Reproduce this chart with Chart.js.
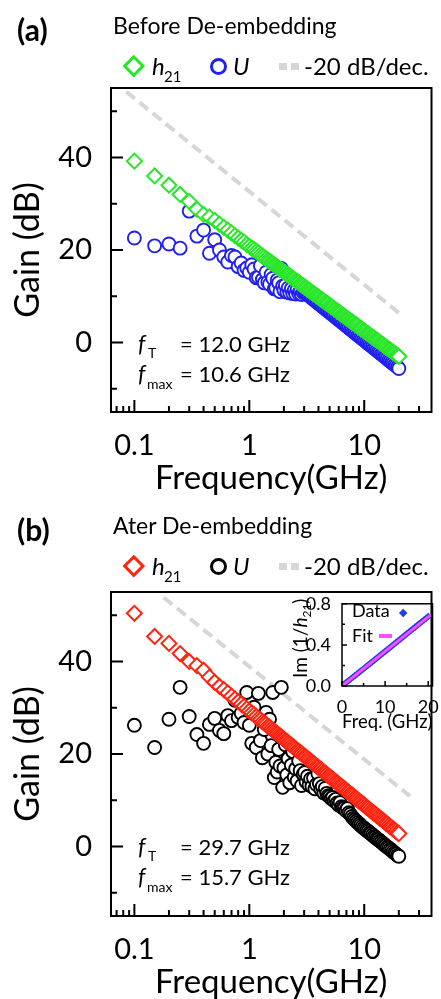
<!DOCTYPE html>
<html>
<head>
<meta charset="utf-8">
<script src="https://cdn.jsdelivr.net/npm/chart.js@4.4.0/dist/chart.umd.min.js"></script>
<style>
  html, body { margin: 0; padding: 0; background: #fff; }
  body { width: 441px; height: 999px; position: relative; overflow: hidden; font-family: Lato, sans-serif; color: #000; }
  canvas { position: absolute; left: 0; }
  .t { position: absolute; white-space: nowrap; line-height: 1.2; }
  .mk { position: absolute; box-sizing: border-box; }
</style>
</head>
<body>
<canvas id="chartA" width="441" height="500" style="top:0"></canvas>
<canvas id="chartB" width="441" height="500" style="top:504px"></canvas>
<canvas id="inset" width="156" height="145" style="left:285px;top:590px"></canvas>
<script>
'use strict';

// frequency sweep (GHz), shared by all four gain series
const freq = [
  0.1, 0.15, 0.2, 0.25, 0.3, 0.35, 0.4, 0.45, 0.5, 0.55,
  0.6, 0.65, 0.7, 0.75, 0.8, 0.85, 0.9, 0.95, 1.0, 1.05,
  1.1, 1.15, 1.2, 1.25, 1.3, 1.35, 1.4, 1.45, 1.5, 1.55,
  1.6, 1.65, 1.7, 1.75, 1.8, 1.85, 1.9, 1.95,
  2.0, 2.06, 2.12, 2.18, 2.25, 2.32, 2.39, 2.46, 2.53, 2.61,
  2.69, 2.77, 2.85, 2.94, 3.03, 3.12, 3.21, 3.31, 3.41, 3.51,
  3.62, 3.72, 3.84, 3.95, 4.07, 4.19, 4.32, 4.45, 4.58, 4.72,
  4.86, 5.01, 5.16, 5.31, 5.47, 5.64, 5.81, 5.98, 6.16, 6.34,
  6.53, 6.73, 6.93, 7.14, 7.35, 7.57, 7.80, 8.03, 8.27, 8.52,
  8.78, 9.04, 9.31, 9.59, 9.88, 10.18, 10.48, 10.80, 11.12, 11.45,
  11.80, 12.15, 12.52, 12.89, 13.28, 13.68, 14.09, 14.51, 14.94, 15.39,
  15.85, 16.33, 16.82, 17.32, 17.84, 18.38, 18.93, 19.50, 20.0
];

// (a) before de-embedding, dB
const h21Before = [
  39.2, 36.0, 34.0, 32.0, 30.5, 28.8, 27.7, 27.1, 26.4, 25.6,
  24.9, 24.3, 23.7, 23.1, 22.6, 22.1, 21.7, 21.2, 20.8, 20.4,
  20.1, 19.7, 19.4, 19.0, 18.7, 18.4, 18.1, 17.8, 17.6, 17.3,
  17.1, 16.8, 16.6, 16.3, 16.1, 15.9, 15.7, 15.5,
  15.3, 15.1, 14.8, 14.6, 14.4, 14.1, 13.9, 13.7, 13.4, 13.2,
  13.0, 12.7, 12.5, 12.3, 12.0, 11.8, 11.5, 11.3, 11.1, 10.8,
  10.6, 10.4, 10.1, 9.9, 9.7, 9.4, 9.2, 9.0, 8.7, 8.5,
  8.3, 8.0, 7.8, 7.6, 7.3, 7.1, 6.8, 6.6, 6.4, 6.1,
  5.9, 5.7, 5.4, 5.2, 5.0, 4.7, 4.5, 4.3, 4.0, 3.8,
  3.6, 3.3, 3.1, 2.9, 2.6, 2.4, 2.1, 1.9, 1.7, 1.4,
  1.2, 1.0, 0.7, 0.5, 0.3, 0.0, -0.2, -0.4, -0.7, -0.9,
  -1.2, -1.4, -1.6, -1.9, -2.1, -2.3, -2.6, -2.8, -3.0
];
const uBefore = [
  22.6, 20.9, 21.3, 20.4, 28.4, 23.0, 24.3, 19.3, 22.2, 20.0,
  18.5, 17.4, 18.8, 18.5, 16.4, 17.2, 15.6, 16.1, 15.2, 16.8,
  15.9, 14.0, 14.1, 16.6, 13.6, 12.9, 15.2, 13.1, 12.6, 14.7,
  13.9, 11.6, 11.8, 13.5, 12.9, 11.0, 16.0, 12.2,
  11.3, 12.4, 10.9, 11.8, 10.7, 11.6, 10.6, 11.3, 10.5, 11.4,
  10.6, 11.0, 10.4, 10.8, 10.9, 10.6, 10.4, 10.1, 9.9, 9.6,
  9.4, 9.1, 8.8, 8.6, 8.3, 8.1, 7.8, 7.6, 7.3, 7.0,
  6.8, 6.5, 6.3, 6.0, 5.8, 5.5, 5.2, 5.0, 4.7, 4.5,
  4.2, 4.0, 3.7, 3.4, 3.2, 2.9, 2.7, 2.4, 2.2, 1.9,
  1.6, 1.4, 1.1, 0.9, 0.6, 0.4, 0.1, -0.2, -0.4, -0.7,
  -0.9, -1.2, -1.4, -1.7, -2.0, -2.2, -2.5, -2.7, -3.0, -3.2,
  -3.5, -3.8, -4.0, -4.3, -4.5, -4.8, -5.0, -5.3, -5.6
];

// (b) after de-embedding, dB
const h21After = [
  50.4, 45.4, 43.9, 41.7, 40.0, 39.1, 38.1, 36.6, 35.5, 34.6,
  33.9, 33.2, 32.5, 31.9, 31.3, 30.8, 30.3, 29.8, 29.3, 28.9,
  28.5, 28.1, 27.7, 27.4, 27.0, 26.7, 26.4, 26.0, 25.8, 25.5,
  25.2, 24.9, 24.6, 24.4, 24.1, 23.9, 23.7, 23.4,
  23.2, 22.9, 22.7, 22.4, 22.2, 21.9, 21.6, 21.4, 21.1, 20.8,
  20.6, 20.3, 20.1, 19.8, 19.5, 19.3, 19.0, 18.8, 18.5, 18.2,
  18.0, 17.7, 17.4, 17.2, 16.9, 16.7, 16.4, 16.1, 15.9, 15.6,
  15.3, 15.1, 14.8, 14.6, 14.3, 14.0, 13.8, 13.5, 13.2, 13.0,
  12.7, 12.5, 12.2, 11.9, 11.7, 11.4, 11.2, 10.9, 10.6, 10.4,
  10.1, 9.8, 9.6, 9.3, 9.1, 8.8, 8.5, 8.3, 8.0, 7.7,
  7.5, 7.2, 7.0, 6.7, 6.4, 6.2, 5.9, 5.7, 5.4, 5.1,
  4.9, 4.6, 4.3, 4.1, 3.8, 3.6, 3.3, 3.0, 2.8
];
const uAfter = [
  26.2, 21.4, 27.5, 34.4, 28.1, 24.2, 22.3, 26.4, 27.7, 25.1,
  24.4, 28.3, 27.2, 31.6, 27.9, 28.8, 26.8, 33.3, 26.2, 22.3,
  30.1, 21.4, 33.1, 22.9, 19.2, 25.3, 29.0, 20.0, 27.5, 21.8,
  33.3, 14.9, 18.2, 16.1, 21.0, 17.4, 34.4, 12.8,
  17.0, 22.0, 15.5, 19.0, 13.8, 17.6, 20.5, 15.0, 16.8, 14.2,
  18.5, 16.4, 13.2, 15.6, 16.0, 14.0, 15.2, 13.3, 14.6, 13.0,
  14.8, 12.5, 13.4, 15.8, 13.6, 12.4, 13.0, 11.6, 12.6, 11.5,
  11.0, 10.8, 10.4, 10.6, 9.9, 10.2, 9.4, 9.0, 9.5, 8.6,
  8.4, 8.3, 7.8, 8.2, 7.3, 7.0, 6.5, 6.1, 5.8, 5.5,
  5.2, 4.9, 4.6, 4.3, 4.0, 3.8, 3.5, 3.3, 3.0, 2.8,
  2.5, 2.2, 2.0, 1.7, 1.5, 1.2, 1.0, 0.7, 0.4, 0.2,
  -0.1, -0.3, -0.6, -0.8, -1.1, -1.4, -1.6, -1.9, -2.1
];

// -20 dB/decade guide lines (end points)
const slopeBeforeF = [0.085, 21];
const slopeBeforeDb = [54.2, 6.0];
const slopeAfterF = [0.18, 25];
const slopeAfterDb = [53.8, 10.9];

// inset: Im(1/h21) vs frequency
const insetF = [
  0.1, 0.5, 1, 1.5, 2, 2.5, 3, 3.5, 4, 4.5, 5, 5.5, 6, 6.5, 7, 7.5, 8, 8.5, 9, 9.5,
  10, 10.5, 11, 11.5, 12, 12.5, 13, 13.5, 14, 14.5, 15, 15.5, 16, 16.5, 17, 17.5,
  18, 18.5, 19, 19.5, 20
];
const insetIm = [
  0.004, 0.018, 0.035, 0.051, 0.068, 0.085, 0.101, 0.118, 0.135, 0.151, 0.168, 0.185,
  0.202, 0.218, 0.235, 0.252, 0.269, 0.286, 0.303, 0.320, 0.337, 0.354, 0.371, 0.388,
  0.405, 0.422, 0.439, 0.456, 0.473, 0.490, 0.507, 0.524, 0.541, 0.558, 0.575, 0.592,
  0.609, 0.626, 0.643, 0.660, 0.677
];
const fitF = [0, 20.5];
const fitIm = [0, 0.69];

// tick labels
const xTicks = [0.1, 1, 10];
const yTicks = [0, 20, 40];
const yMinor = [-10, 10, 30, 50];
const insetXTicks = [0, 10, 20];
const insetXMinor = [5, 15];
const insetYTicks = [0, 0.4, 0.8];
const insetYMinor = [0.2, 0.6];

function logMinor(min, max) {
  const out = [];
  for (let e = -2; e <= 2; e++) {
    for (let m = 2; m <= 9; m++) {
      const v = m * Math.pow(10, e);
      if (v > min && v < max) out.push(v);
    }
  }
  return out;
}

const xy = (xs, ys) => xs.map((x, i) => ({ x, y: ys[i] }));

Chart.defaults.font.family = 'Lato';
Chart.defaults.color = '#000';

// box round the plot area and inward tick marks on the bottom and left axes
const frame = {
  id: 'frame',
  afterDatasetsDraw(chart, args, o) {
    const { ctx, chartArea: a } = chart;
    const sx = chart.scales.x, sy = chart.scales.y;
    ctx.save();
    ctx.strokeStyle = '#000';
    ctx.lineWidth = o.width;
    ctx.strokeRect(a.left, a.top, a.right - a.left, a.bottom - a.top);
    ctx.beginPath();
    const xm = (vals, len) => vals.forEach(v => {
      const p = sx.getPixelForValue(v);
      ctx.moveTo(p, a.bottom); ctx.lineTo(p, a.bottom - len);
    });
    const ym = (vals, len) => vals.forEach(v => {
      const p = sy.getPixelForValue(v);
      ctx.moveTo(a.left, p); ctx.lineTo(a.left + len, p);
    });
    xm(o.xMajor, o.major); xm(o.xMinor, o.minor);
    ym(o.yMajor, o.major); ym(o.yMinor, o.minor);
    ctx.stroke();
    ctx.restore();
  }
};

function gainChart(id, h21, u, slopeF, slopeDb, colH, colU) {
  const xMin = 0.0626, xMax = 38.5;
  return new Chart(document.getElementById(id), {
    type: 'scatter',
    data: {
      datasets: [
        {
          label: 'h21', data: xy(freq, h21), pointStyle: 'rectRot', pointRadius: 7.5,
          pointBorderWidth: 2, pointBorderColor: colH, pointBackgroundColor: '#fff',
          borderColor: colH, backgroundColor: '#fff'
        },
        {
          label: 'U', data: xy(freq, u), pointStyle: 'circle', pointRadius: 6.5,
          pointBorderWidth: 1.9, pointBorderColor: colU, pointBackgroundColor: '#fff',
          borderColor: colU, backgroundColor: '#fff'
        },
        {
          label: '-20 dB/dec.', data: xy(slopeF, slopeDb), showLine: true, pointRadius: 0,
          borderColor: '#d6d6d6', borderWidth: 4, borderDash: [11, 6]
        }
      ]
    },
    options: {
      responsive: false, animation: false, devicePixelRatio: 1, events: [],
      layout: { padding: { top: 88, right: 1, left: 0, bottom: 0 } },
      plugins: {
        legend: { display: false }, tooltip: { enabled: false },
        frame: {
          width: 2, major: 12, minor: 6,
          xMajor: xTicks, xMinor: logMinor(xMin, xMax), yMajor: yTicks, yMinor: yMinor
        }
      },
      scales: {
        x: {
          type: 'logarithmic', min: xMin, max: xMax,
          afterBuildTicks: s => { s.ticks = xTicks.map(v => ({ value: v })); },
          afterFit: s => { s.height = 88; },
          grid: { display: false }, border: { display: false },
          ticks: { autoSkip: false, maxRotation: 0, padding: 8, font: { size: 29 }, callback: v => String(v) },
          title: { display: true, text: 'Frequency(GHz)', font: { size: 33 }, padding: { top: 0, bottom: 2 } }
        },
        y: {
          min: -15, max: 55,
          afterBuildTicks: s => { s.ticks = yTicks.map(v => ({ value: v })); },
          afterFit: s => { s.width = 111; },
          grid: { display: false }, border: { display: false },
          ticks: { autoSkip: false, padding: 11, font: { size: 29 }, callback: v => String(v) },
          title: { display: true, text: 'Gain (dB)', font: { size: 34 }, padding: { top: 8, bottom: 0 } }
        }
      }
    },
    plugins: [frame]
  });
}

gainChart('chartA', h21Before, uBefore, slopeBeforeF, slopeBeforeDb, '#28e628', '#2020f0');
gainChart('chartB', h21After, uAfter, slopeAfterF, slopeAfterDb, '#ff2410', '#000');

new Chart(document.getElementById('inset'), {
  type: 'scatter',
  data: {
    datasets: [
      {
        label: 'Fit', data: xy(fitF, fitIm), showLine: true, pointRadius: 0,
        borderColor: '#ff4cff', borderWidth: 3
      },
      {
        label: 'Data', data: xy(insetF, insetIm), pointStyle: 'rectRot', pointRadius: 3.8,
        pointBorderWidth: 0, pointBackgroundColor: '#1e3cf0', pointBorderColor: '#1e3cf0'
      }
    ]
  },
  options: {
    responsive: false, animation: false, devicePixelRatio: 1, events: [],
    layout: { padding: { top: 10, right: 7, left: 0, bottom: 0 } },
    plugins: {
      legend: { display: false }, tooltip: { enabled: false },
      frame: {
        width: 1.5, major: 5, minor: 3,
        xMajor: insetXTicks, xMinor: insetXMinor, yMajor: insetYTicks, yMinor: insetYMinor
      }
    },
    scales: {
      x: {
        type: 'linear', min: 0, max: 21,
        afterBuildTicks: s => { s.ticks = insetXTicks.map(v => ({ value: v })); },
        afterFit: s => { s.height = 49; },
        grid: { display: false }, border: { display: false },
        ticks: { autoSkip: false, maxRotation: 0, padding: 2, font: { size: 18 }, callback: v => String(v) },
        title: { display: true, text: 'Freq. (GHz)', font: { size: 20 }, padding: { top: 0, bottom: 1 } }
      },
      y: {
        min: 0, max: 0.8,
        afterBuildTicks: s => { s.ticks = insetYTicks.map(v => ({ value: v })); },
        afterFit: s => { s.width = 57; },
        grid: { display: false }, border: { display: false },
        ticks: { autoSkip: false, padding: 3, font: { size: 18 }, callback: v => v.toFixed(1) }
      }
    }
  },
  plugins: [frame]
});

// text and legend keys laid over the canvases
function put(html, x, baseline, size, css) {
  const d = document.createElement('div');
  d.className = 't';
  d.innerHTML = html;
  d.style.left = x + 'px';
  d.style.top = (baseline - 0.987 * size) + 'px';
  d.style.fontSize = size + 'px';
  if (css) d.style.cssText += css;
  document.body.appendChild(d);
  return d;
}
function box(x, y, w, h, css) {
  const d = document.createElement('div');
  d.className = 'mk';
  d.style.cssText += `left:${x}px;top:${y}px;width:${w}px;height:${h}px;` + css;
  document.body.appendChild(d);
}
function diamondKey(cx, cy, half, bw, col, fill) {
  const s = half * Math.SQRT2;
  box(cx - s / 2, cy - s / 2, s, s, `border:${bw}px solid ${col};background:${fill};transform:rotate(45deg);`);
}
function circleKey(cx, cy, r, bw, col) {
  box(cx - r, cy - r, 2 * r, 2 * r, `border:${bw}px solid ${col};border-radius:50%;`);
}

function panelText(dy, dyPlot, tag, title, colH, colU, fT, fMax) {
  put('<b>' + tag + '</b>', 17, 41 + dy, 30);
  put(title, 113, 34.5 + dy, 23);
  diamondKey(134, 66 + dy, 11, 3, colH, 'transparent');
  put('<i>h</i>', 152, 76 + dy, 24);
  put('21', 164, 82 + dy, 15);
  circleKey(218, 66 + dy, 8.5, 3, colU);
  put('<i>U</i>', 233, 76 + dy, 24);
  box(279, 63 + dy, 8, 7, 'background:#d6d6d6;');
  box(291, 63 + dy, 8, 7, 'background:#d6d6d6;');
  put('-20 dB/dec.', 304, 76 + dy, 24);
  put('<i>f</i>', 138, 353 + dyPlot, 23);
  put('T', 148, 359 + dyPlot, 14);
  put('= ' + fT + ' GHz', 180, 353 + dyPlot, 22);
  put('<i>f</i>', 138, 383 + dyPlot, 23);
  put('max', 147, 390 + dyPlot, 14);
  put('= ' + fMax + ' GHz', 180, 383 + dyPlot, 22);
}

panelText(0, 0, '(a)', 'Before De-embedding', '#28e628', '#2020f0', '12.0', '10.6');
panelText(500, 503, '(b)', 'Ater De-embedding', '#ff2410', '#000', '29.7', '15.7');

// inset legend and rotated axis title
put('Data', 352, 618, 18);
diamondKey(403, 613, 4.5, 0, '#1e3cf0', '#1e3cf0');
put('Fit', 352, 643, 18);
box(379, 634, 13, 4, 'background:#ff4cff;');
put('Im (1/<i>h</i><span style="font-size:12px;position:relative;top:4px">21</span>)', 300, 641, 19,
  'transform:translate(-50%,-62%) rotate(-90deg);top:641px;');
</script>
</body>
</html>
